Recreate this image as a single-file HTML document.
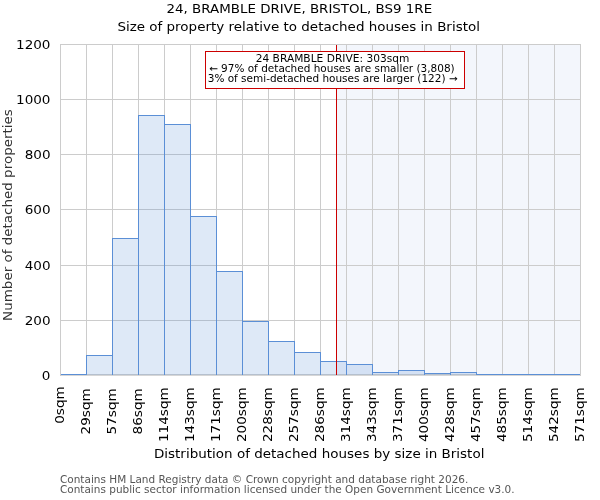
<!DOCTYPE html>
<html><head><meta charset="utf-8"><style>
html,body{margin:0;padding:0;background:#fff;}
svg{display:block;will-change:transform;}
text{font-family:"DejaVu Sans","Liberation Sans",sans-serif;}
</style></head><body>
<svg width="600" height="500" viewBox="0 0 600 500">
<rect x="0" y="0" width="600" height="500" fill="#fff"/>
<rect x="336" y="44" width="244" height="331" fill="#f3f6fc"/>
<path d="M60.5 44V376 M86.5 44V376 M112.5 44V376 M138.5 44V376 M164.5 44V376 M190.5 44V376 M216.5 44V376 M242.5 44V376 M268.5 44V376 M294.5 44V376 M320.5 44V376 M346.5 44V376 M372.5 44V376 M398.5 44V376 M424.5 44V376 M450.5 44V376 M476.5 44V376 M502.5 44V376 M528.5 44V376 M554.5 44V376 M580.5 44V376 M60 44.5H581 M60 99.5H581 M60 154.5H581 M60 209.5H581 M60 265.5H581 M60 320.5H581 M60 374.5H581" stroke="#cccccc" stroke-width="1" fill="none"/>
<defs><clipPath id="clipax"><rect x="60" y="44" width="521" height="331"/></clipPath></defs>
<g clip-path="url(#clipax)">
<rect x="60.5" y="374.5" width="26.0" height="1.00" fill="#5b8fd6" fill-opacity="0.2" stroke="#5b8fd6" stroke-width="1"/>
<rect x="86.5" y="355.5" width="26.0" height="20.00" fill="#5b8fd6" fill-opacity="0.2" stroke="#5b8fd6" stroke-width="1"/>
<rect x="112.5" y="238.5" width="26.0" height="137.00" fill="#5b8fd6" fill-opacity="0.2" stroke="#5b8fd6" stroke-width="1"/>
<rect x="138.5" y="115.5" width="26.0" height="260.00" fill="#5b8fd6" fill-opacity="0.2" stroke="#5b8fd6" stroke-width="1"/>
<rect x="164.5" y="124.5" width="26.0" height="251.00" fill="#5b8fd6" fill-opacity="0.2" stroke="#5b8fd6" stroke-width="1"/>
<rect x="190.5" y="216.5" width="26.0" height="159.00" fill="#5b8fd6" fill-opacity="0.2" stroke="#5b8fd6" stroke-width="1"/>
<rect x="216.5" y="271.5" width="26.0" height="104.00" fill="#5b8fd6" fill-opacity="0.2" stroke="#5b8fd6" stroke-width="1"/>
<rect x="242.5" y="321.5" width="26.0" height="54.00" fill="#5b8fd6" fill-opacity="0.2" stroke="#5b8fd6" stroke-width="1"/>
<rect x="268.5" y="341.5" width="26.0" height="34.00" fill="#5b8fd6" fill-opacity="0.2" stroke="#5b8fd6" stroke-width="1"/>
<rect x="294.5" y="352.5" width="26.0" height="23.00" fill="#5b8fd6" fill-opacity="0.2" stroke="#5b8fd6" stroke-width="1"/>
<rect x="320.5" y="361.5" width="26.0" height="14.00" fill="#5b8fd6" fill-opacity="0.2" stroke="#5b8fd6" stroke-width="1"/>
<rect x="346.5" y="364.5" width="26.0" height="11.00" fill="#5b8fd6" fill-opacity="0.2" stroke="#5b8fd6" stroke-width="1"/>
<rect x="372.5" y="372.5" width="26.0" height="3.00" fill="#5b8fd6" fill-opacity="0.2" stroke="#5b8fd6" stroke-width="1"/>
<rect x="398.5" y="370.5" width="26.0" height="5.00" fill="#5b8fd6" fill-opacity="0.2" stroke="#5b8fd6" stroke-width="1"/>
<rect x="424.5" y="373.5" width="26.0" height="2.00" fill="#5b8fd6" fill-opacity="0.2" stroke="#5b8fd6" stroke-width="1"/>
<rect x="450.5" y="372.5" width="26.0" height="3.00" fill="#5b8fd6" fill-opacity="0.2" stroke="#5b8fd6" stroke-width="1"/>
<rect x="476.5" y="374.5" width="26.0" height="1.00" fill="#5b8fd6" fill-opacity="0.2" stroke="#5b8fd6" stroke-width="1"/>
<rect x="502.5" y="374.5" width="26.0" height="1.00" fill="#5b8fd6" fill-opacity="0.2" stroke="#5b8fd6" stroke-width="1"/>
<rect x="528.5" y="374.5" width="26.0" height="1.00" fill="#5b8fd6" fill-opacity="0.2" stroke="#5b8fd6" stroke-width="1"/>
<rect x="554.5" y="374.5" width="26.0" height="1.00" fill="#5b8fd6" fill-opacity="0.2" stroke="#5b8fd6" stroke-width="1"/>
</g>
<path d="M336.5 45V375" stroke="#cc0000" stroke-width="1"/>
<path d="M60.5 44V376M580.5 44V376M60 44.5H581" stroke="#cccccc" stroke-width="1" fill="none"/>
<path d="M61 375.5H580" stroke="#d6d6d6" stroke-width="1" fill="none"/>
<rect x="205.5" y="51.5" width="259" height="37" fill="#fff" stroke="#cc0000" stroke-width="1"/>
<text transform="translate(166.53,13.00) scale(1.0728,1)" font-size="12.5" fill="#000000">24, BRAMBLE DRIVE, BRISTOL, BS9 1RE</text>
<text transform="translate(117.42,30.70) scale(1.0776,1)" font-size="12.5" fill="#000000">Size of property relative to detached houses in Bristol</text>
<text transform="translate(153.92,458.00) scale(1.0796,1)" font-size="12.5" fill="#000000">Distribution of detached houses by size in Bristol</text>
<text transform="translate(59.92,482.70) scale(1.0822,1)" font-size="9.72" fill="#555555">Contains HM Land Registry data © Crown copyright and database right 2026.</text>
<text transform="translate(59.92,492.90) scale(1.0800,1)" font-size="9.72" fill="#555555">Contains public sector information licensed under the Open Government Licence v3.0.</text>
<text transform="translate(255.70,61.70) scale(1.0957,1)" font-size="9.72" fill="#000000">24 BRAMBLE DRIVE: 303sqm</text>
<text transform="translate(208.92,71.80) scale(1.0805,1)" font-size="9.72" fill="#000000">← 97% of detached houses are smaller (3,808)</text>
<text transform="translate(207.72,81.50) scale(1.0783,1)" font-size="9.72" fill="#000000">3% of semi-detached houses are larger (122) →</text>
<text transform="translate(12,320.88) rotate(-90) scale(1.0779,1)" font-size="12.5" fill="#333333">Number of detached properties</text>
<text transform="translate(50.5,48.85) scale(1.085,1)" font-size="12.5" fill="#000000" text-anchor="end">1200</text>
<text transform="translate(50.5,103.70) scale(1.085,1)" font-size="12.5" fill="#000000" text-anchor="end">1000</text>
<text transform="translate(50.5,159.00) scale(1.085,1)" font-size="12.5" fill="#000000" text-anchor="end">800</text>
<text transform="translate(50.5,214.00) scale(1.085,1)" font-size="12.5" fill="#000000" text-anchor="end">600</text>
<text transform="translate(50.5,269.70) scale(1.085,1)" font-size="12.5" fill="#000000" text-anchor="end">400</text>
<text transform="translate(50.5,324.60) scale(1.085,1)" font-size="12.5" fill="#000000" text-anchor="end">200</text>
<text transform="translate(50.5,379.90) scale(1.085,1)" font-size="12.5" fill="#000000" text-anchor="end">0</text>
<text transform="translate(64.10,386.30) rotate(-90) scale(1.085,1)" font-size="12.5" fill="#000000" text-anchor="end">0sqm</text>
<text transform="translate(90.10,388.30) rotate(-90) scale(1.085,1)" font-size="12.5" fill="#000000" text-anchor="end">29sqm</text>
<text transform="translate(116.10,388.30) rotate(-90) scale(1.085,1)" font-size="12.5" fill="#000000" text-anchor="end">57sqm</text>
<text transform="translate(142.10,388.30) rotate(-90) scale(1.085,1)" font-size="12.5" fill="#000000" text-anchor="end">86sqm</text>
<text transform="translate(168.10,387.30) rotate(-90) scale(1.085,1)" font-size="12.5" fill="#000000" text-anchor="end">114sqm</text>
<text transform="translate(194.10,387.30) rotate(-90) scale(1.085,1)" font-size="12.5" fill="#000000" text-anchor="end">143sqm</text>
<text transform="translate(220.10,387.30) rotate(-90) scale(1.085,1)" font-size="12.5" fill="#000000" text-anchor="end">171sqm</text>
<text transform="translate(246.10,387.30) rotate(-90) scale(1.085,1)" font-size="12.5" fill="#000000" text-anchor="end">200sqm</text>
<text transform="translate(272.10,387.30) rotate(-90) scale(1.085,1)" font-size="12.5" fill="#000000" text-anchor="end">228sqm</text>
<text transform="translate(298.10,387.30) rotate(-90) scale(1.085,1)" font-size="12.5" fill="#000000" text-anchor="end">257sqm</text>
<text transform="translate(324.10,387.30) rotate(-90) scale(1.085,1)" font-size="12.5" fill="#000000" text-anchor="end">286sqm</text>
<text transform="translate(350.10,387.30) rotate(-90) scale(1.085,1)" font-size="12.5" fill="#000000" text-anchor="end">314sqm</text>
<text transform="translate(376.10,387.30) rotate(-90) scale(1.085,1)" font-size="12.5" fill="#000000" text-anchor="end">343sqm</text>
<text transform="translate(402.10,387.30) rotate(-90) scale(1.085,1)" font-size="12.5" fill="#000000" text-anchor="end">371sqm</text>
<text transform="translate(428.10,387.30) rotate(-90) scale(1.085,1)" font-size="12.5" fill="#000000" text-anchor="end">400sqm</text>
<text transform="translate(454.10,387.30) rotate(-90) scale(1.085,1)" font-size="12.5" fill="#000000" text-anchor="end">428sqm</text>
<text transform="translate(480.10,387.30) rotate(-90) scale(1.085,1)" font-size="12.5" fill="#000000" text-anchor="end">457sqm</text>
<text transform="translate(506.10,387.30) rotate(-90) scale(1.085,1)" font-size="12.5" fill="#000000" text-anchor="end">485sqm</text>
<text transform="translate(532.10,387.30) rotate(-90) scale(1.085,1)" font-size="12.5" fill="#000000" text-anchor="end">514sqm</text>
<text transform="translate(558.10,387.30) rotate(-90) scale(1.085,1)" font-size="12.5" fill="#000000" text-anchor="end">542sqm</text>
<text transform="translate(584.10,387.30) rotate(-90) scale(1.085,1)" font-size="12.5" fill="#000000" text-anchor="end">571sqm</text>
</svg></body></html>
